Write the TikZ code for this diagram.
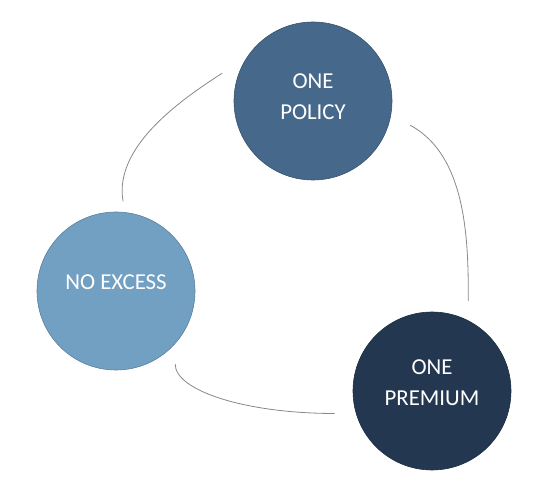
\documentclass[tikz,border=0pt]{standalone}
\usepackage{fontspec}
\setmainfont{Carlito}
\usetikzlibrary{calc}
\definecolor{Policy}{HTML}{46688A}
\definecolor{Excess}{HTML}{72A0C2}
\definecolor{Premium}{HTML}{233850}
\definecolor{Arc}{HTML}{84898E}
\tikzset{
  bubble/.style={
    circle,minimum size=158pt,inner sep=0pt,fill=#1,draw=#1!80!black,
    line width=0.6pt,text=white,align=center,text depth=9pt,
    font=\fontsize{22.8}{31}\selectfont
  },
  link/.style={draw=Arc,line width=0.8pt}
}
\begin{document}
\begin{tikzpicture}[x=1pt,y=1pt]
  \useasboundingbox (0,0) rectangle (552,495);
  \node[bubble=Policy] (policy) at (313,394) {ONE\\POLICY};
  \node[bubble=Excess,text depth=18pt] (excess) at (116,204) {NO EXCESS};
  \node[bubble=Premium,text depth=16pt] (premium) at (432,104) {ONE\\PREMIUM};
  % loose ends of the arcs
  \coordinate (policy-a) at ($(policy)+(163:95)$);
  \coordinate (excess-a) at ($(excess)+(85.5:90)$);
  \coordinate (policy-b) at ($(policy)+(-14:100)$);
  \coordinate (premium-b) at ($(premium)+(68:97)$);
  \coordinate (excess-c) at ($(excess)+(-51:94)$);
  \coordinate (premium-c) at ($(premium)+(193:100)$);
  \draw[link] (policy-a) .. controls +(213:44) and +(100:57) .. (excess-a);
  \draw[link] (policy-b) .. controls +(-28:65) and +(90:58) .. (premium-b);
  \draw[link] (excess-c) .. controls +(0,-27) and +(-88,0) .. (premium-c);
\end{tikzpicture}
\end{document}
